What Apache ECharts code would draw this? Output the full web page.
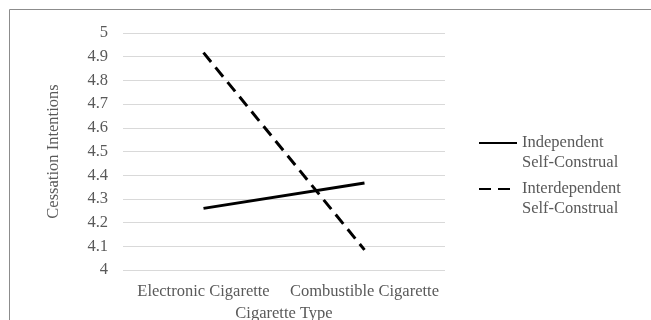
<!DOCTYPE html>
<html>
<head>
<meta charset="utf-8">
<script src="https://cdn.jsdelivr.net/npm/echarts@6/dist/echarts.min.js"></script>
<style>
html, body { margin: 0; padding: 0; background: #fff; }
#chart { width: 651px; height: 320px; }
</style>
</head>
<body>
<div id="chart"></div>
<script>
// cigarette type on x, cessation intentions on y
const categories = ['Electronic Cigarette', 'Combustible Cigarette']
const independentValues = [4.26, 4.367]
const interdependentValues = [4.917, 4.085]
const seriesNames = ['Independent\nSelf-Construal', 'Interdependent\nSelf-Construal']

const chart = echarts.init(document.getElementById('chart'))
const fontFamily = '"Liberation Serif", "Times New Roman", serif'

const option = {
  backgroundColor: '#fff',
  animation: false,
  textStyle: { fontFamily: fontFamily },
  graphic: [{
    type: 'rect',
    shape: { x: 9.5, y: 9.5, width: 700, height: 400 },
    style: { fill: 'none', stroke: '#8c8c8c', lineWidth: 1 },
    silent: true
  }],
  grid: {
    left: 123,
    right: 206,
    top: 33,
    bottom: 50,
    outerBoundsMode: 'none'
  },
  legend: {
    orient: 'vertical',
    left: 478,
    top: 113,
    padding: 0,
    itemWidth: 38,
    itemHeight: 10,
    itemGap: -14,
    data: seriesNames,
    itemStyle: { opacity: 0 },
    // blank first line so the icon sits level with the first text line
    formatter: (name) => {
      return '\n' + name
    },
    textStyle: {
      fontFamily: fontFamily,
      fontSize: 16.5,
      color: '#595959',
      lineHeight: 20
    }
  },
  xAxis: {
    type: 'category',
    data: categories,
    name: 'Cigarette Type',
    nameLocation: 'middle',
    nameGap: 33,
    nameTextStyle: { fontFamily: fontFamily, fontSize: 16.5, color: '#595959' },
    axisLine: { show: false },
    axisTick: { show: false },
    axisLabel: {
      interval: 0,
      margin: 13,
      fontFamily: fontFamily,
      fontSize: 16.5,
      color: '#595959'
    }
  },
  yAxis: {
    type: 'value',
    min: 4,
    max: 5,
    interval: 0.1,
    name: 'Cessation Intentions',
    nameLocation: 'middle',
    nameGap: 61,
    nameTextStyle: { fontFamily: fontFamily, fontSize: 16.5, color: '#595959' },
    axisLine: { show: false },
    axisTick: { show: false },
    axisLabel: {
      margin: 15,
      fontFamily: fontFamily,
      fontSize: 16.5,
      color: '#595959',
      formatter: (val) => {
        return parseFloat(val.toFixed(1)).toString()
      }
    },
    splitLine: {
      lineStyle: { color: '#d9d9d9', width: 1 }
    }
  },
  series: [{
    name: seriesNames[0],
    type: 'line',
    data: independentValues,
    symbol: 'none',
    lineStyle: { color: '#000', width: 3 },
    itemStyle: { color: '#000' }
  }, {
    name: seriesNames[1],
    type: 'line',
    data: interdependentValues,
    symbol: 'none',
    lineStyle: { color: '#000', width: 3, type: [12, 7] },
    itemStyle: { color: '#000' }
  }]
}
chart.setOption(option)
</script>
</body>
</html>
